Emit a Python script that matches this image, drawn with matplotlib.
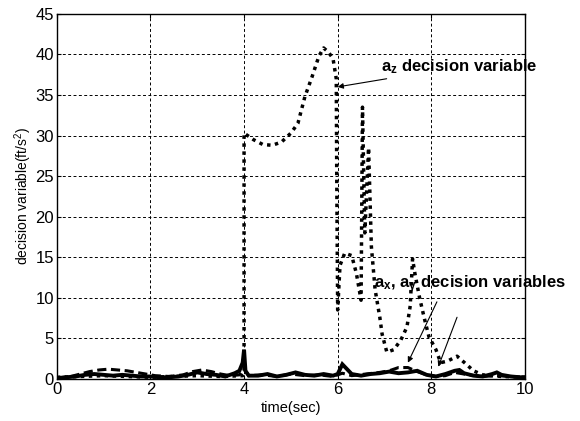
import matplotlib
matplotlib.use("Agg")
import matplotlib.pyplot as plt

plt.rcParams['font.family'] = ['Liberation Sans', 'DejaVu Sans']
plt.rcParams['mathtext.default'] = 'regular'

# a_z decision variable (dotted)
az_t = [0, 0.5, 1.0, 1.5, 2.0, 2.5, 3.0, 3.5, 3.97, 4.0,
        4.0, 4.2, 4.4, 4.6, 4.8, 5.0, 5.15, 5.3, 5.45, 5.6,
        5.7, 5.8, 5.9, 5.97, 5.98, 6.0, 6.05, 6.15, 6.3, 6.4,
        6.5, 6.53, 6.58, 6.66, 6.72, 6.8, 6.9, 6.95, 7.05, 7.2,
        7.35, 7.48, 7.55, 7.6, 7.65, 7.75, 7.85, 7.95, 8.1, 8.2,
        8.35, 8.55, 8.75, 8.9, 9.1, 9.5, 10]
az_v = [0.2, 0.3, 0.4, 0.3, 0.2, 0.3, 0.4, 0.3, 0.4, 0.6,
        30.3, 29.5, 28.9, 28.8, 29.2, 30.3, 31.5, 34.8, 37.2, 39.8,
        40.8, 40.3, 39.5, 37, 25, 8.5, 14, 15.5, 15.2, 13,
        9.7, 33.5, 18, 28.5, 16.3, 11, 7.6, 5.5, 3.3, 3.6,
        4.8, 6.4, 9.0, 14.8, 13, 10, 7.5, 5.2, 3.6, 2.0,
        2.2, 2.8, 1.8, 1.0, 0.5, 0.3, 0.2]

# a_x decision variable (solid)
ax_t = [0, 0.2, 0.4, 0.6, 0.8, 1.0, 1.2, 1.4, 1.6, 1.8,
        2.0, 2.2, 2.4, 2.6, 2.8, 3.0, 3.2, 3.4, 3.6, 3.8,
        3.9, 3.97, 4.0, 4.03, 4.1, 4.3, 4.5, 4.7, 4.9, 5.1,
        5.3, 5.5, 5.7, 5.9, 6.0, 6.1, 6.2, 6.3, 6.5, 6.7,
        6.9, 7.1, 7.3, 7.5, 7.7, 7.9, 8.1, 8.3, 8.5, 8.6,
        8.7, 8.9, 9.1, 9.3, 9.4, 9.5, 9.7, 9.9, 10]
ax_v = [0.1, 0.2, 0.3, 0.5, 0.6, 0.5, 0.4, 0.5, 0.4, 0.3,
        0.3, 0.2, 0.2, 0.3, 0.5, 0.8, 0.6, 0.5, 0.3, 0.7,
        1.0, 2.0, 3.6, 1.0, 0.4, 0.4, 0.6, 0.3, 0.5, 0.8,
        0.5, 0.4, 0.6, 0.4, 0.6, 1.8, 1.2, 0.6, 0.4, 0.6,
        0.7, 0.9, 0.7, 0.8, 1.0, 0.5, 0.3, 0.6, 1.0, 1.1,
        0.7, 0.4, 0.3, 0.6, 0.8, 0.5, 0.3, 0.2, 0.2]

# a_y decision variable (dashed)
ay_t = [0, 0.3, 0.5, 0.7, 0.9, 1.1, 1.3, 1.5, 1.7, 1.9,
        2.1, 2.4, 2.7, 2.9, 3.1, 3.3, 3.5, 3.7, 3.9, 4.0,
        4.1, 4.4, 4.7, 5.0, 5.3, 5.6, 5.9, 6.1, 6.3, 6.6,
        6.9, 7.1, 7.3, 7.5, 7.7, 7.9, 8.1, 8.3, 8.5, 8.8,
        9.1, 9.4, 9.7, 10]
ay_v = [0.1, 0.3, 0.6, 0.9, 1.1, 1.2, 1.1, 1.0, 0.8, 0.6,
        0.4, 0.3, 0.5, 0.9, 1.1, 0.9, 0.6, 0.4, 0.5, 1.2,
        0.4, 0.5, 0.3, 0.6, 0.4, 0.5, 0.3, 0.7, 0.4, 0.6,
        0.8, 1.0, 1.4, 1.4, 0.9, 0.5, 0.3, 0.4, 0.8, 0.5,
        0.3, 0.4, 0.3, 0.2]

fig = plt.figure(figsize=(5.8, 4.21), dpi=100)
ax = fig.add_axes([0.098, 0.1, 0.807, 0.867])

ax.plot(ax_t, ax_v, color='k', lw=2.8, solid_joinstyle='miter')
ax.plot(ay_t, ay_v, color='k', lw=2.2, linestyle=(0, (3, 1.5)))
ax.plot(az_t, az_v, color='k', lw=2.5, linestyle=(0, (1, 1.3)), dash_capstyle='butt')

ax.set_xlim(0, 10)
ax.set_ylim(0, 45)
ax.set_xticks(range(0, 11, 2))
ax.set_yticks(range(0, 46, 5))
ax.tick_params(direction='in', length=3, labelsize=12, top=True, right=True, pad=2)
ax.grid(True, color='k', linestyle=(0, (3, 2.5)), linewidth=0.7)
for s in ax.spines.values():
    s.set_linewidth(1.0)

ax.set_xlabel('time(sec)', fontsize=10.5, labelpad=3)
ax.set_ylabel('decision variable(ft/s$^2$)', fontsize=10, labelpad=1)

arr = dict(arrowstyle='-|>', color='k', lw=0.8, mutation_scale=8, shrinkA=0, shrinkB=0)
ax.annotate('a$_z$ decision variable', xy=(6.0, 36.0), xytext=(6.93, 38.5),
            fontsize=12, fontweight='bold', va='center', arrowprops=arr)
ax.text(6.78, 11.6, 'a$_x$, a$_y$ decision variables', fontsize=12,
        fontweight='bold', va='center')
ax.annotate('', xy=(7.5, 2.0), xytext=(8.12, 9.5), arrowprops=arr)
ax.annotate('', xy=(8.15, 1.5), xytext=(8.55, 7.6), arrowprops=arr)

fig.savefig('out.png', dpi=100)
